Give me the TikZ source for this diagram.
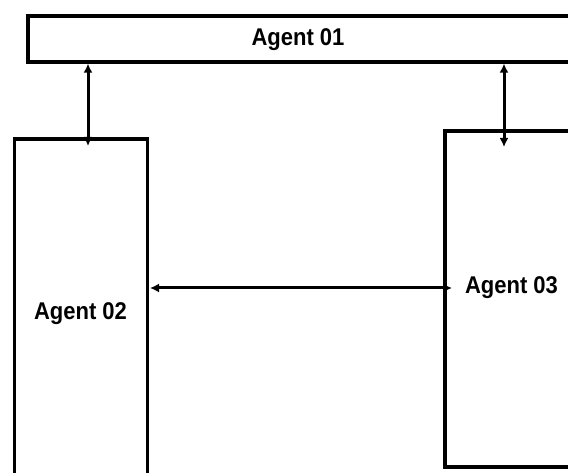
\documentclass[tikz,border=0pt]{standalone}
\usepackage{fontspec}
\setmainfont{Liberation Sans}
\usetikzlibrary{arrows.meta}
\begin{document}
\begin{tikzpicture}[x=1pt,y=-1pt,
  box/.style={draw=black,line width=3.2pt,fill=white,inner sep=0pt},
  lbl/.style={font=\bfseries\fontsize{22}{26}\selectfont,inner sep=0pt,anchor=base,yscale=1.1},
  tip/.tip={Latex[length=9pt,width=9pt]},
  arr/.style={line width=3pt,tip-tip}]
\useasboundingbox (0,0) rectangle (568,473);
\fill[white] (0,0) rectangle (568,473);
\clip (0,0) rectangle (568,473);
\node[box,minimum width=542pt,minimum height=46pt] (a1) at (299,39) {};
\node[box,minimum width=133pt,minimum height=336pt] (a2) at (81,307) {};
\node[box,minimum width=140pt,minimum height=336pt] (a3) at (515,299) {};
\node[lbl] (t1) at (298,45.5) {Agent 01};
\node[lbl] (t2) at (80.5,319.5) {Agent 02};
\node[lbl] (t3) at (511.5,293.5) {Agent 03};
\coordinate (c1) at (88,146);
\coordinate (c2) at (504,147);
\coordinate (c3) at (150,288);
\coordinate (c4) at (452,288);
\draw[arr] (a1.south -| c1) -- (c1);
\draw[arr] (a1.south -| c2) -- (c2);
\draw[arr] (c3) -- (c4);
\end{tikzpicture}
\end{document}
